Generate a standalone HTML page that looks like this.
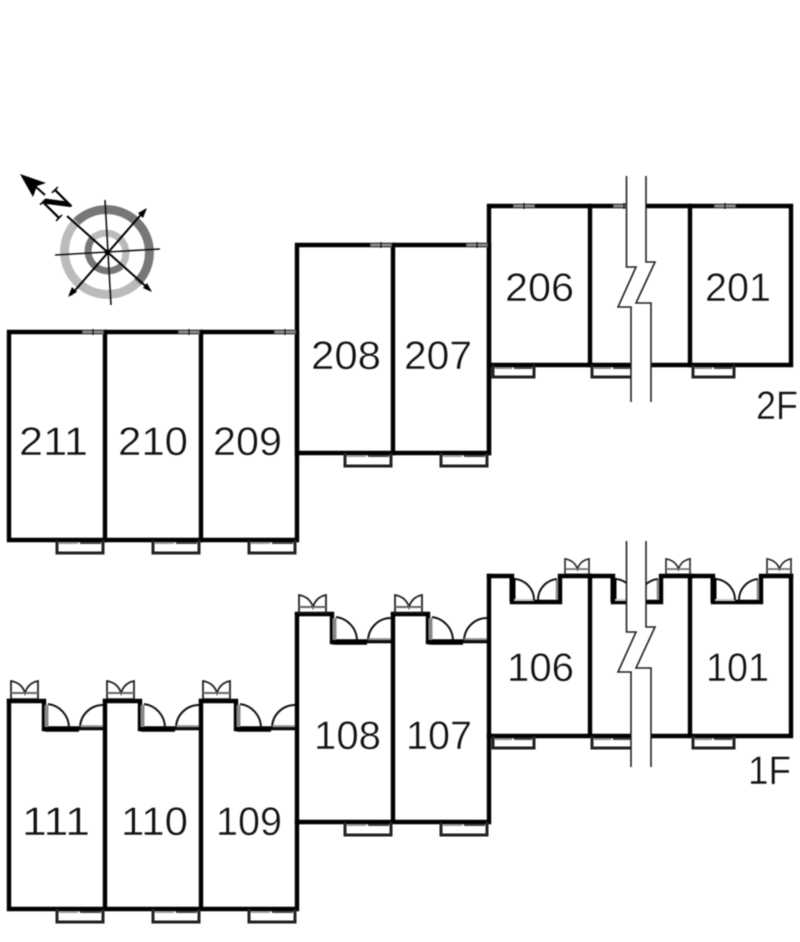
<!DOCTYPE html>
<html>
<head>
<meta charset="utf-8">
<style>
html,body{margin:0;padding:0;background:#fff;width:800px;height:942px;overflow:hidden}
svg{display:block;filter:blur(.45px)}
text{font-family:"Liberation Sans",sans-serif;font-size:40px;fill:#111;stroke:#fff;stroke-width:.5px}
.w{fill:none;stroke:#000;stroke-width:4.4;stroke-linejoin:miter;stroke-linecap:square}
.t{fill:none;stroke:#111;stroke-width:2}
.b{fill:none;stroke:#222;stroke-width:3}
</style>
</head>
<body>
<svg width="800" height="942" viewBox="0 0 800 942" xmlns="http://www.w3.org/2000/svg">
<defs>
  <g id="top"><rect x="0" y="-2.5" width="22" height="5" fill="#555"/><path d="M1 0H21" stroke="#bbb" stroke-width="1"/><path d="M11 -3V3" stroke="#000" stroke-width="1"/></g>
  <g id="bal">
    <path d="M1 0V13H47V0" class="b"/>
    <path d="M3 3H22" stroke="#999" stroke-width="2"/><path d="M24 3H45" stroke="#444" stroke-width="2"/>
  </g>
  <g id="balS">
    <path d="M1 0V12H42V0" class="b"/>
    <path d="M3 3H20" stroke="#888" stroke-width="2"/><path d="M22 3H40" stroke="#444" stroke-width="2"/>
  </g>
  <g id="meter">
    <path d="M0 20V1Q11 3 14 13Q17 3 27 1V20" fill="none" stroke="#222" stroke-width="1.8"/>
    <path d="M0 13H27" stroke="#666" stroke-width="2"/><path d="M0 19H27" stroke="#111" stroke-width="1.6"/>
  </g>
  <g id="entry">
    <path d="M0 0H35V28" class="w"/>
    <path d="M36 28H70" stroke="#000" stroke-width="5.5"/><path d="M70 28H96" stroke="#000" stroke-width="2.5"/>
    <path d="M37.5 4V26" stroke="#888" stroke-width="4"/>
    <path d="M39 3A24 24 0 0 1 60 27" class="t"/>
    <path d="M94 4A23 23 0 0 0 71 27H94" class="t"/>
    <path d="M71 25H94" stroke="#888" stroke-width="1.5"/>
  </g>
  <g id="entryF">
    <path d="M0 0H23V26H71V0H101" class="w"/>
    <path d="M23.5 2V26" stroke="#000" stroke-width="6"/>
    <path d="M25 24H45" stroke="#ccc" stroke-width="2"/>
    <path d="M26 3A21 21 0 0 1 45 24" class="t"/>
    <path d="M68 3A21 21 0 0 0 49 24" class="t"/>
    <path d="M68 4V24" stroke="#888" stroke-width="2.5"/>
  </g>
</defs>

<!-- compass -->
<g fill="none">
  <path d="M76.6 221.6A43 43 0 0 1 137.4 282.4" stroke="#777" stroke-width="9"/>
  <path d="M137.4 282.4A43 43 0 0 1 76.6 221.6" stroke="#bbb" stroke-width="9"/>
  <path d="M92.9 237.9A20 20 0 0 1 121.1 266.1" stroke="#bbb" stroke-width="7"/>
  <path d="M121.1 266.1A20 20 0 0 1 92.9 237.9" stroke="#777" stroke-width="7"/>
</g>
<g stroke="#111" stroke-width="1.6" fill="none">
  <path d="M55 255L160 249"/><path d="M105 200L111 305"/>
</g>
<g stroke="#000" stroke-width="2">
  <path d="M71 295L145 210"/><path d="M67 216L150 290"/>
</g>
<path d="M147 208L138 213L143 218Z M68 297L77 292L72 287Z M152 292L147 283L143 288Z" fill="#000"/>
<circle cx="107" cy="252" r="2.5" fill="#000"/>
<path d="M20 174L46 183L37 186L33 197Z" fill="#000"/>
<path d="M36 187L45 195" stroke="#000" stroke-width="2"/>
<text x="0" y="0" transform="translate(56 222) rotate(-45)" style="font-family:'Liberation Serif',serif;font-size:37px;font-weight:bold;fill:#000;stroke:none">N</text>

<!-- 2F walls -->
<path d="M9 332H297V540H9Z" class="w"/>
<path d="M105 332V540M201 332V540" class="w"/>
<path d="M297 332V245H489V453H297Z" class="w"/>
<path d="M393 245V453" class="w"/>
<path d="M489 245V206H791V365H489Z" class="w"/>
<path d="M590 206V365M690 206V365" class="w"/>
<path d="M489 365V453" class="w"/>

<use href="#top" x="82" y="332"/><use href="#top" x="178" y="332"/><use href="#top" x="274" y="332"/>
<use href="#top" x="370" y="245"/><use href="#top" x="466" y="245"/>
<use href="#top" x="513" y="206"/><use href="#top" x="613" y="206"/><use href="#top" x="714" y="206"/>

<use href="#bal" x="56" y="540"/><use href="#bal" x="152" y="540"/><use href="#bal" x="248" y="540"/>
<use href="#bal" x="344" y="453"/><use href="#bal" x="440" y="453"/>
<use href="#balS" x="492" y="365"/><use href="#balS" x="591" y="365"/><use href="#balS" x="692" y="365"/>

<!-- 1F walls -->
<path d="M105 701V909H9V701M201 701V909H105M297 615V909H201" class="w"/>
<use href="#entry" x="9" y="701"/><use href="#entry" x="105" y="701"/><use href="#entry" x="201" y="701"/>
<path d="M393 615V822H297M489 576V822H393" class="w"/>
<use href="#entry" x="297" y="614"/><use href="#entry" x="393" y="614"/>
<path d="M590 576V736H489M690 576V736H590M791 576V736H690V576" class="w"/>
<use href="#entryF" x="489" y="576"/><use href="#entryF" x="590" y="576"/><use href="#entryF" x="690" y="576"/>

<use href="#meter" x="11" y="680"/><use href="#meter" x="107" y="680"/><use href="#meter" x="203" y="680"/>
<use href="#meter" x="299" y="594"/><use href="#meter" x="395" y="594"/>
<use href="#meter" transform="translate(565 558) scale(.89 .85)"/><use href="#meter" transform="translate(666 558) scale(.89 .85)"/><use href="#meter" transform="translate(767 558) scale(.89 .85)"/>

<use href="#bal" x="56" y="909"/><use href="#bal" x="152" y="909"/><use href="#bal" x="248" y="909"/>
<use href="#bal" x="344" y="822"/><use href="#bal" x="440" y="822"/>
<use href="#balS" x="492" y="736"/><use href="#balS" x="591" y="736"/><use href="#balS" x="692" y="736"/>

<!-- break strips -->
<path d="M626.5 176V267H636L618 307H631V402H651V303H636L655 262H646V176Z" fill="#fff" stroke="none"/>
<path d="M626.5 176V267H636L618 307H631V402M651 402V303H636L655 262H646V176" fill="none" stroke="#222" stroke-width="1.6"/>
<path d="M626.5 541V632H636L618 672H631V767H651V668H636L655 627H646V541Z" fill="#fff" stroke="none"/>
<path d="M626.5 541V632H636L618 672H631V767M651 767V668H636L655 627H646V541" fill="none" stroke="#222" stroke-width="1.6"/>

<!-- labels -->
<text x="19" y="455" textLength="69" lengthAdjust="spacingAndGlyphs">211</text>
<text x="118" y="455" textLength="70" lengthAdjust="spacingAndGlyphs">210</text>
<text x="213" y="455" textLength="69" lengthAdjust="spacingAndGlyphs">209</text>
<text x="311" y="369" textLength="70" lengthAdjust="spacingAndGlyphs">208</text>
<text x="404" y="369" textLength="68" lengthAdjust="spacingAndGlyphs">207</text>
<text x="505" y="301" textLength="69" lengthAdjust="spacingAndGlyphs">206</text>
<text x="705" y="301" textLength="66" lengthAdjust="spacingAndGlyphs">201</text>
<text x="756" y="419" textLength="42" lengthAdjust="spacingAndGlyphs">2F</text>
<text x="22" y="835" textLength="68" lengthAdjust="spacingAndGlyphs">111</text>
<text x="121" y="835" textLength="67" lengthAdjust="spacingAndGlyphs">110</text>
<text x="216" y="835" textLength="66" lengthAdjust="spacingAndGlyphs">109</text>
<text x="314" y="749" textLength="67" lengthAdjust="spacingAndGlyphs">108</text>
<text x="406" y="749" textLength="66" lengthAdjust="spacingAndGlyphs">107</text>
<text x="507" y="681" textLength="67" lengthAdjust="spacingAndGlyphs">106</text>
<text x="706" y="681" textLength="63" lengthAdjust="spacingAndGlyphs">101</text>
<text x="748" y="784" textLength="43" lengthAdjust="spacingAndGlyphs">1F</text>
</svg>
</body>
</html>
